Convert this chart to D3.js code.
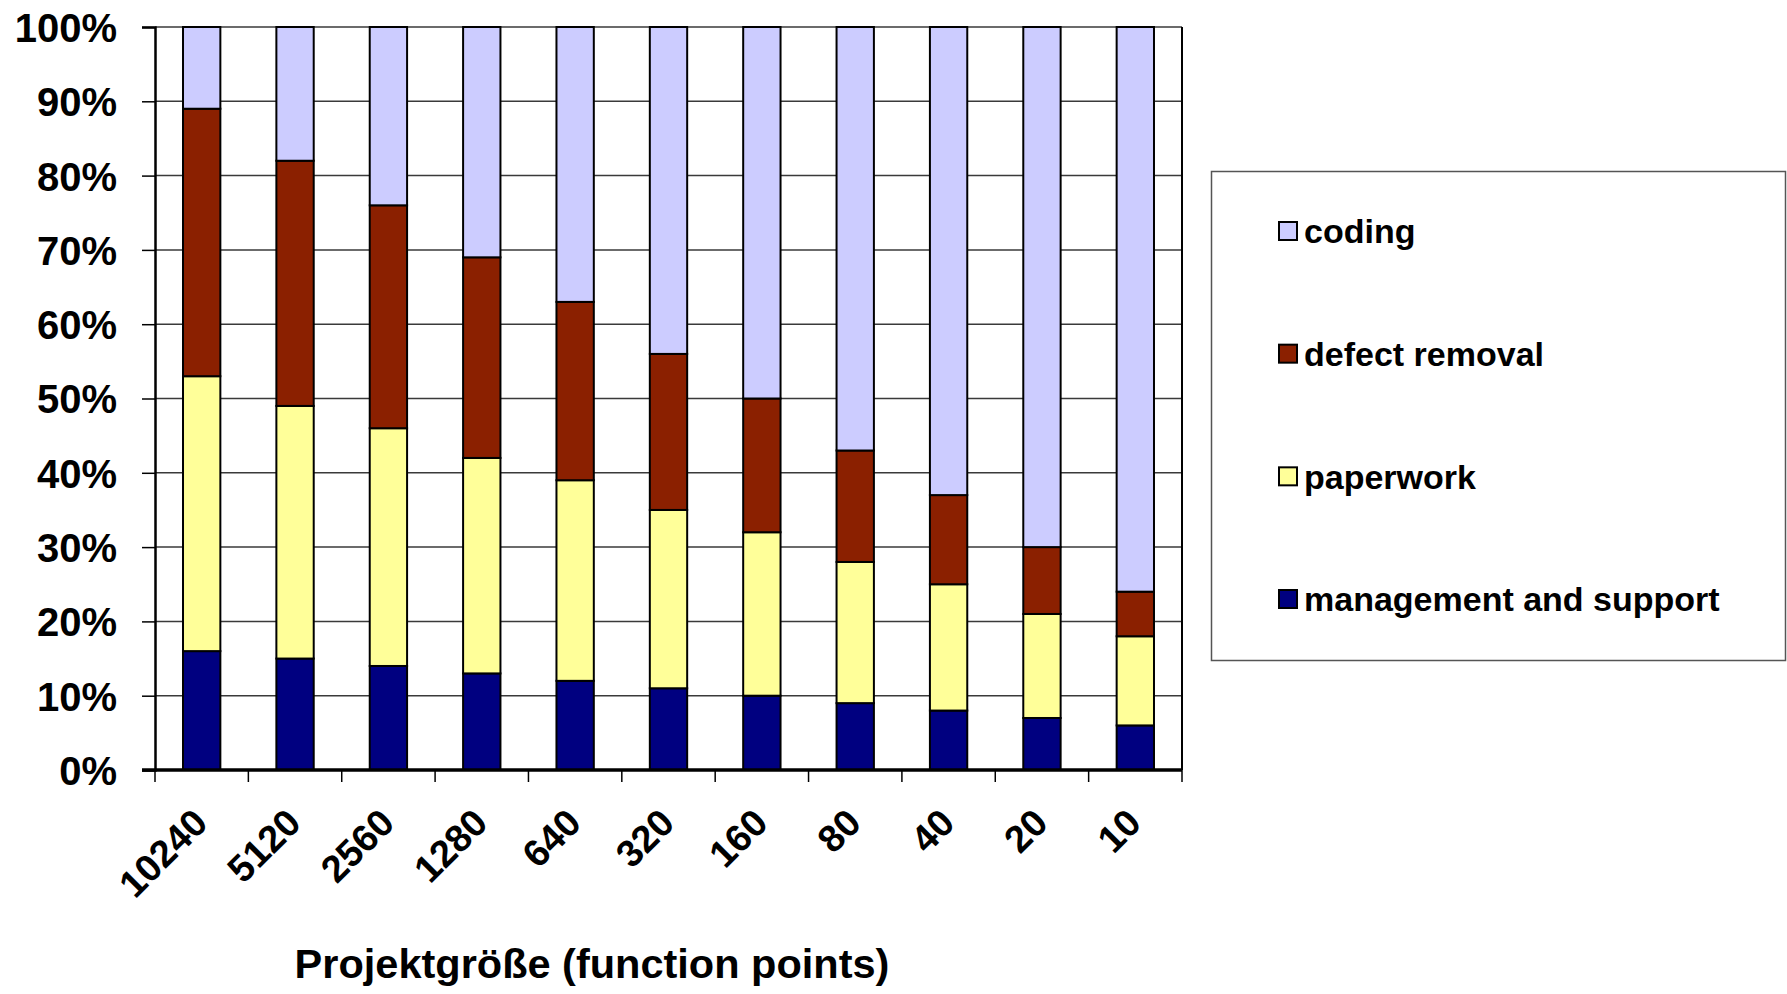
<!DOCTYPE html>
<html>
<head>
<meta charset="utf-8">
<script src="https://cdn.jsdelivr.net/npm/d3@7"></script>
<style>
  html, body { margin: 0; padding: 0; background: #fff; }
  svg { display: block; }
  text { font-family: "Liberation Sans", Arial, sans-serif; font-weight: bold; fill: #000; }
</style>
</head>
<body>
<svg id="chart" width="1787" height="994"></svg>
<script>
const categories = ["10240", "5120", "2560", "1280", "640", "320", "160", "80", "40", "20", "10"];
const management = [16, 15, 14, 13, 12, 11, 10, 9, 8, 7, 6];
const paperwork  = [37, 34, 32, 29, 27, 24, 22, 19, 17, 14, 12];
const defect     = [36, 33, 30, 27, 24, 21, 18, 15, 12, 9, 6];
const coding     = [11, 18, 24, 31, 37, 44, 50, 57, 63, 70, 76];
const seriesNames = ["management and support", "paperwork", "defect removal", "coding"];
const seriesColors = ["#000080", "#FFFF99", "#8B2000", "#CCCCFF"];
const yTicks = [0, 10, 20, 30, 40, 50, 60, 70, 80, 90, 100];
const xTitle = "Projektgröße (function points)";

(function () {
const svg = d3.select("#chart");
const pLeft = 155, pRight = 1182, pTop = 27, pBottom = 770;

const rows = categories.map((c, i) => ({
  cat: c,
  "management and support": management[i],
  "paperwork": paperwork[i],
  "defect removal": defect[i],
  "coding": coding[i]
}));
const stacked = d3.stack().keys(seriesNames)(rows);

const x = d3.scaleBand().domain(categories).range([pLeft, pRight]).paddingInner(0.6).paddingOuter(0.3);
const y = d3.scaleLinear().domain([0, 100]).range([pBottom, pTop]);
const color = d3.scaleOrdinal().domain(seriesNames).range(seriesColors);

// gridlines
svg.append("g").selectAll("line").data(yTicks.filter(t => t > 0)).join("line")
  .attr("x1", pLeft).attr("x2", pRight)
  .attr("y1", d => y(d)).attr("y2", d => y(d))
  .attr("stroke", "#3a3a3a").attr("stroke-width", 1.5);

// right border
svg.append("line").attr("x1", pRight).attr("x2", pRight).attr("y1", pTop).attr("y2", pBottom)
  .attr("stroke", "#000").attr("stroke-width", 2);

// bars
svg.append("g").selectAll("g").data(stacked).join("g")
  .attr("fill", d => color(d.key))
  .selectAll("rect").data(d => d).join("rect")
  .attr("x", d => x(d.data.cat))
  .attr("width", x.bandwidth())
  .attr("y", d => y(d[1]))
  .attr("height", d => y(d[0]) - y(d[1]))
  .attr("stroke", "#000").attr("stroke-width", 2);

// y axis
const yAxis = d3.axisLeft(y).tickValues(yTicks).tickFormat(d => d + "%").tickSize(13).tickPadding(25);
const gy = svg.append("g").attr("transform", `translate(${pLeft},0)`).call(yAxis);
gy.select(".domain").attr("stroke", "#000").attr("stroke-width", 2.5);
gy.selectAll(".tick line").attr("stroke", "#000").attr("stroke-width", 1.5);
gy.selectAll(".tick text").attr("font-size", 40).attr("font-family", "Liberation Sans, Arial, sans-serif")
  .attr("font-weight", "bold").attr("fill", "#000").attr("dy", "0.36em");

// x axis: ticks at category boundaries
const step = x.step();
const boundaries = d3.range(categories.length + 1).map(i => pLeft + i * step);
svg.append("g").selectAll("line").data(boundaries).join("line")
  .attr("x1", d => d).attr("x2", d => d)
  .attr("y1", pBottom).attr("y2", pBottom + 12)
  .attr("stroke", "#000").attr("stroke-width", 1.5);
svg.append("line").attr("x1", pLeft - 13).attr("x2", pRight).attr("y1", pBottom).attr("y2", pBottom)
  .attr("stroke", "#000").attr("stroke-width", 3.5);

// x labels
svg.append("g").selectAll("text").data(categories).join("text")
  .attr("transform", d => `translate(${x(d) + x.bandwidth() / 2 + 8},${pBottom + 55}) rotate(-45)`)
  .attr("text-anchor", "end")
  .attr("font-size", 38)
  .text(d => d);

// x title
svg.append("text").attr("x", 592).attr("y", 978).attr("text-anchor", "middle")
  .attr("font-size", 41.5).text(xTitle);

// legend
const lg = svg.append("g");
lg.append("rect").attr("x", 1211.5).attr("y", 171.5).attr("width", 574).attr("height", 489)
  .attr("fill", "#fff").attr("stroke", "#555").attr("stroke-width", 1.5);
const legendOrder = seriesNames.slice().reverse();
const lyPos = d3.scalePoint().domain(legendOrder).range([231, 599]);
const items = lg.selectAll("g.item").data(legendOrder).join("g").attr("class", "item")
  .attr("transform", d => `translate(1279,${lyPos(d)})`);
items.append("rect").attr("x", 0).attr("y", -9).attr("width", 18).attr("height", 18)
  .attr("fill", d => color(d)).attr("stroke", "#000").attr("stroke-width", 2);
items.append("text").attr("x", 25).attr("y", 0).attr("dy", "0.36em")
  .attr("font-size", 34).text(d => d);
})();
</script>
</body>
</html>
